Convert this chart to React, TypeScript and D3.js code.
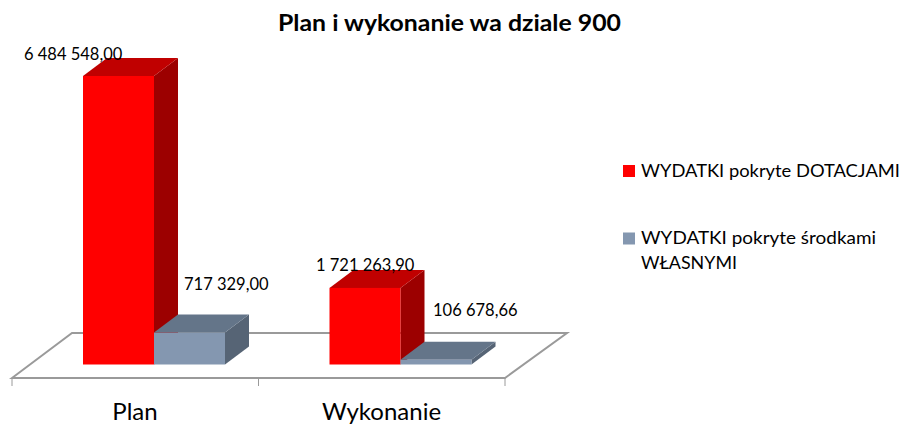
import React from "react";
import * as d3 from "d3";

const categories = ["Plan", "Wykonanie"];
const seriesNames = ["WYDATKI pokryte DOTACJAMI", "WYDATKI pokryte środkami WŁASNYMI"];
const dotacje = [6484548.0, 1721263.9];
const wlasne = [717329.0, 106678.66];
const dotacjeLabels = ["6 484 548,00", "1 721 263,90"];
const wlasneLabels = ["717 329,00", "106 678,66"];
const title = "Plan i wykonanie wa dziale 900";

const W = 905, H = 424;
const FONT = "Lato, Carlito, sans-serif";
const DX = 24, DY = -18;
const BASE = 364.5;

const x0 = d3.scaleBand<string>().domain(categories).range([12, 505]);
const x1 = d3.scaleBand<string>().domain(seriesNames).range([71, 213]);
const y = d3.scaleLinear().domain([0, dotacje[0]]).range([BASE, 76]);

const series = [
  { name: seriesNames[0], values: dotacje, labels: dotacjeLabels, front: "#ff0000", top: "#c00000", side: "#9c0000" },
  { name: seriesNames[1], values: wlasne, labels: wlasneLabels, front: "#8497b0", top: "#647589", side: "#566475" },
];
// label offset from the front-left/top corner of each bar: [category][series]
const labelOffset = [
  [{ dx: -59, dy: -16 }, { dx: 30, dy: -43 }],
  [{ dx: -13.5, dy: -17 }, { dx: 32.5, dy: -44 }],
];

const line = d3.line();
const poly = (pts: [number, number][]) => line(pts) + "Z";

function Box({ x, w, t, s }: { x: number; w: number; t: number; s: (typeof series)[number] }) {
  const b = BASE;
  return (
    <g>
      <path d={poly([[x + w, t], [x + w + DX, t + DY], [x + w + DX, b + DY], [x + w, b]])} fill={s.side} />
      <path d={poly([[x, t], [x + DX, t + DY], [x + w + DX, t + DY], [x + w, t]])} fill={s.top} />
      <rect x={x} y={t} width={w} height={b - t} fill={s.front} />
    </g>
  );
}

export default function App() {
  const floorColor = "#9a9a9a";
  const xl = x0.range()[0], xr = x0.range()[1];
  const yFront = 378, yBack = 333, floorDx = 60;
  return (
    <svg width={W} height={H} viewBox={`0 0 ${W} ${H}`} style={{ position: "absolute", left: 0, top: 0, background: "#fff" }} fontFamily={FONT}>
      <text x={278} y={31} fontSize={22} fontWeight={700} fill="#000" textLength={343} lengthAdjust="spacingAndGlyphs">{title}</text>

      <path
        d={poly([[xl, yFront], [xl + floorDx, yBack], [xr + floorDx + 2, yBack], [xr, yFront]])}
        fill="#fff" stroke={floorColor} strokeWidth={2}
      />
      {[xl, x0(categories[1])!, xr].map((t) => (
        <line key={t} x1={t} x2={t} y1={yFront} y2={yFront + 8} stroke={floorColor} strokeWidth={1} />
      ))}

      {categories.map((c, i) => (
        <g key={c}>
          {series.map((s) => (
            <Box key={s.name} x={x0(c)! + x1(s.name)!} w={x1.bandwidth()} t={y(s.values[i])} s={s} />
          ))}
        </g>
      ))}

      {categories.map((c, i) =>
        series.map((s, k) => {
          const o = labelOffset[i][k];
          return (
            <text key={s.name + c} x={x0(c)! + x1(s.name)! + o.dx} y={y(s.values[i]) + o.dy} fontSize={16.5} fill="#000">{s.labels[i]}</text>
          );
        })
      )}

      {categories.map((c, i) => (
        <text key={c} x={i === 0 ? 135 : 381.5} y={420} textAnchor="middle" fontSize={24} fill="#000">{c}</text>
      ))}

      <rect x={623} y={165} width={12} height={12} fill={series[0].front} />
      <text x={641} y={177} fontSize={17} fill="#000" textLength={259} lengthAdjust="spacingAndGlyphs">{seriesNames[0]}</text>
      <rect x={623} y={232.5} width={12} height={12} fill={series[1].front} />
      <text x={641} y={244} fontSize={17} fill="#000" textLength={235} lengthAdjust="spacingAndGlyphs">WYDATKI pokryte środkami</text>
      <text x={641} y={269} fontSize={17} fill="#000" textLength={96} lengthAdjust="spacingAndGlyphs">WŁASNYMI</text>
    </svg>
  );
}
